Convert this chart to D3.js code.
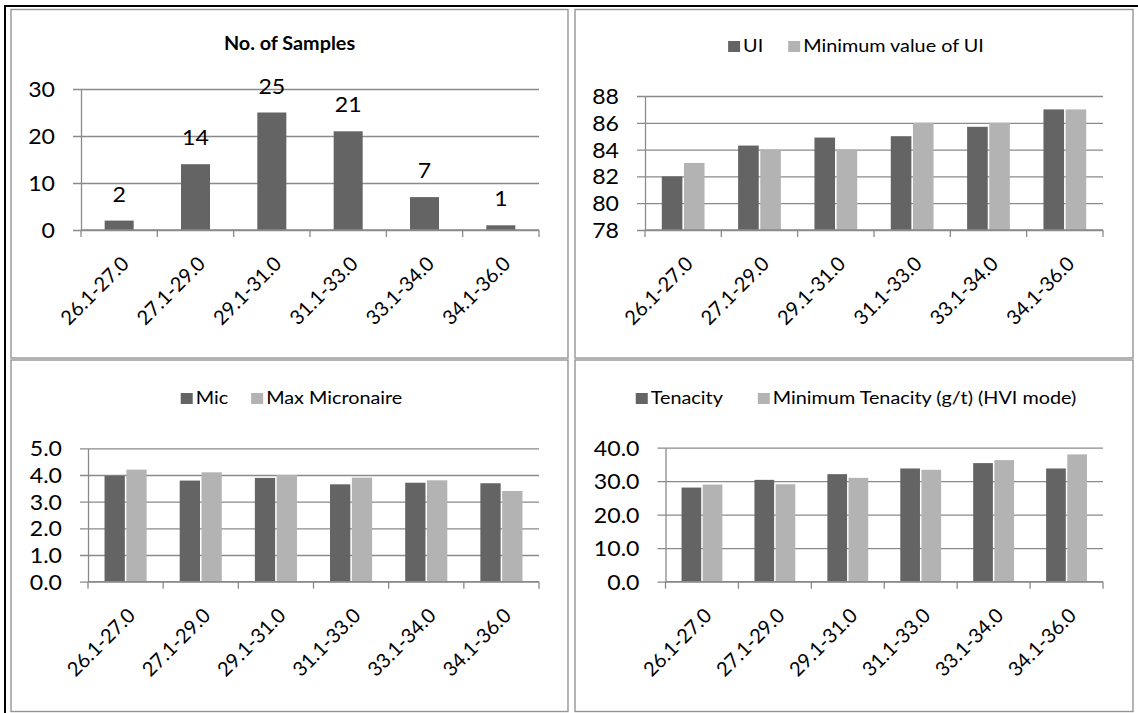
<!DOCTYPE html>
<html>
<head>
<meta charset="utf-8">
<script src="https://cdn.jsdelivr.net/npm/d3@7"></script>
<style>
  html, body { margin: 0; padding: 0; background: #fff; }
  svg { display: block; }
  text { font-family: Lato, "Open Sans", sans-serif; fill: #000; }
</style>
</head>
<body>
<svg id="chart" width="1138" height="713"></svg>
<script>
// ---------- data ----------
const categories = ["26.1-27.0", "27.1-29.0", "29.1-31.0", "31.1-33.0", "33.1-34.0", "34.1-36.0"];

const samples = [2, 14, 25, 21, 7, 1];
const samplesTicks = [0, 10, 20, 30];

const uiValues = [82.0, 84.3, 84.9, 85.0, 85.7, 87.0];
const minUiValues = [83, 84, 84, 86, 86, 87];
const uiTicks = [78, 80, 82, 84, 86, 88];

const micValues = [3.97, 3.79, 3.89, 3.65, 3.71, 3.69];
const maxMicValues = [4.2, 4.1, 4.0, 3.9, 3.8, 3.4];
const micTicks = [0, 1, 2, 3, 4, 5];

const tenacityValues = [28.1, 30.4, 32.1, 33.8, 35.4, 33.8];
const minTenacityValues = [29.0, 29.1, 31.0, 33.4, 36.3, 38.0];
const tenacityTicks = [0, 10, 20, 30, 40];

const seriesNames = {
  samples: "No. of Samples",
  ui: ["UI", "Minimum value of UI"],
  mic: ["Mic", "Max Micronaire"],
  ten: ["Tenacity", "Minimum Tenacity (g/t) (HVI mode)"]
};

// ---------- style ----------
const DARK = "#646464", LIGHT = "#b3b3b3", GRID = "#8a8a8a", BORDER = "#959595";
const SX = 1.1; // horizontal glyph stretch for horizontal texts

const svg = d3.select("#chart");

// outer black frame lines
svg.append("line").attr("x1", 4).attr("x2", 1138).attr("y1", 6).attr("y2", 6)
  .attr("stroke", "#000").attr("stroke-width", 2);
svg.append("line").attr("x1", 5).attr("x2", 5).attr("y1", 5).attr("y2", 713)
  .attr("stroke", "#000").attr("stroke-width", 2);

function stretchText(sel, x, y) {
  sel.attr("x", 0).attr("y", 0).attr("transform", `translate(${x},${y}) scale(${SX},1)`);
}

function panel(cfg) {
  const g = svg.append("g");
  const b = cfg.box;
  g.append("rect").attr("x", b.x).attr("y", b.y).attr("width", b.w).attr("height", b.h)
    .attr("fill", "#fff").attr("stroke", BORDER).attr("stroke-width", 1.4);

  const p = cfg.plot;
  const x = d3.scaleBand().domain(categories).range([p.left, p.right]).padding(0);
  const y = d3.scaleLinear().domain([cfg.ticks[0], cfg.ticks[cfg.ticks.length - 1]]).range([p.bottom, p.top]);

  // y axis with gridlines
  const yAxis = d3.axisLeft(y).tickValues(cfg.ticks).tickFormat(d3.format(cfg.fmt))
    .tickSizeInner(-(p.right - p.left)).tickSizeOuter(0).tickPadding(26);
  const ya = g.append("g").attr("transform", `translate(${p.left},0)`).call(yAxis);
  ya.select(".domain").attr("stroke", GRID).attr("stroke-width", 1.3);
  ya.selectAll(".tick line").attr("x1", -8).attr("stroke", GRID).attr("stroke-width", 1.3);
  ya.selectAll(".tick text").each(function () {
    const t = d3.select(this);
    t.attr("text-anchor", "end").attr("dy", "0.36em")
      .style("font-family", "Lato, sans-serif").style("font-size", "21px").attr("fill", "#000");
    stretchText(t, -26, 0);
  });

  // bars
  const bw = x.bandwidth();
  const series = cfg.series;
  if (series.length === 1) {
    const w = bw * 0.38;
    g.append("g").selectAll("rect").data(series[0].values).join("rect")
      .attr("x", (d, i) => x(categories[i]) + bw / 2 - w / 2)
      .attr("y", d => y(d))
      .attr("width", w)
      .attr("height", d => y(cfg.ticks[0]) - y(d))
      .attr("fill", series[0].color);
  } else {
    const w = bw * 0.28;
    const inner = d3.scaleBand().domain(d3.range(series.length)).range([-w, w]).paddingInner(0.07);
    series.forEach((s, si) => {
      g.append("g").selectAll("rect").data(s.values).join("rect")
        .attr("x", (d, i) => x(categories[i]) + bw / 2 + inner(si))
        .attr("y", d => y(d))
        .attr("width", inner.bandwidth())
        .attr("height", d => y(cfg.ticks[0]) - y(d))
        .attr("fill", s.color);
    });
  }

  // x axis line and boundary ticks
  g.append("line").attr("x1", p.left).attr("x2", p.right).attr("y1", p.bottom).attr("y2", p.bottom)
    .attr("stroke", GRID).attr("stroke-width", 1.3);
  const bounds = categories.map(c => x(c)).concat([x.range()[1]]);
  g.append("g").selectAll("line").data(bounds).join("line")
    .attr("x1", d => d).attr("x2", d => d).attr("y1", p.bottom).attr("y2", p.bottom + 7)
    .attr("stroke", GRID).attr("stroke-width", 1.3);

  // x labels, rotated 45 degrees
  g.append("g").selectAll("text").data(categories).join("text")
    .text(d => d)
    .attr("text-anchor", "end")
    .style("font-size", "20px")
    .attr("transform", d => `translate(${x(d) + bw / 2 + 11},${p.bottom + 35}) rotate(-45)`);

  // data labels
  if (cfg.dataLabels) {
    g.append("g").selectAll("text").data(series[0].values).join("text")
      .text(d => d)
      .attr("text-anchor", "middle")
      .style("font-size", "21px")
      .each(function (d, i) {
        stretchText(d3.select(this), x(categories[i]) + bw / 2, y(d) - 19);
      });
  }

  // title
  if (cfg.title) {
    const t = g.append("text").text(cfg.title).attr("text-anchor", "middle")
      .style("font-size", "18px").style("font-weight", "bold");
    stretchText(t, b.x + b.w / 2, b.y + 40);
  }

  // legend
  if (cfg.legend) {
    const lg = g.append("g");
    const sq = 11, sqW = 12, gapText = 3;
    let cursor = 0;
    series.forEach((s, si) => {
      const it = lg.append("g");
      it.append("rect").attr("x", cursor).attr("y", -sq / 2 - 5.5).attr("width", sqW).attr("height", sq).attr("fill", s.color);
      const t = it.append("text").text(s.name).style("font-size", "18px");
      stretchText(t, cursor + sqW + gapText, 0);
      const tw = t.node().getComputedTextLength() * SX;
      cursor += sqW + gapText + tw;
      if (si < series.length - 1) cursor += cfg.legendGap;
    });
    const cx = b.x + b.w / 2 + 2;
    lg.attr("transform", `translate(${cx - cursor / 2},${b.y + cfg.legendY})`);
  }
}

panel({
  box: { x: 11, y: 9.5, w: 557, h: 348.5 },
  plot: { left: 81, right: 539, top: 89, bottom: 230 },
  ticks: samplesTicks, fmt: "d",
  series: [{ name: seriesNames.samples, values: samples, color: DARK }],
  title: seriesNames.samples, dataLabels: true
});

panel({
  box: { x: 575, y: 9.5, w: 558, h: 348.5 },
  plot: { left: 645, right: 1103, top: 96, bottom: 230 },
  ticks: uiTicks, fmt: "d",
  series: [
    { name: seriesNames.ui[0], values: uiValues, color: DARK },
    { name: seriesNames.ui[1], values: minUiValues, color: LIGHT }
  ],
  legend: true, legendGap: 25, legendY: 42.5
});

panel({
  box: { x: 11, y: 360, w: 557, h: 351.5 },
  plot: { left: 88, right: 539, top: 448.3, bottom: 581.7 },
  ticks: micTicks, fmt: ".1f",
  series: [
    { name: seriesNames.mic[0], values: micValues, color: DARK },
    { name: seriesNames.mic[1], values: maxMicValues, color: LIGHT }
  ],
  legend: true, legendGap: 23, legendY: 44
});

panel({
  box: { x: 575, y: 360, w: 558, h: 351.5 },
  plot: { left: 665.5, right: 1103, top: 447.7, bottom: 581.7 },
  ticks: tenacityTicks, fmt: ".1f",
  series: [
    { name: seriesNames.ten[0], values: tenacityValues, color: DARK },
    { name: seriesNames.ten[1], values: minTenacityValues, color: LIGHT }
  ],
  legend: true, legendGap: 35, legendY: 44
});
</script>
</body>
</html>
